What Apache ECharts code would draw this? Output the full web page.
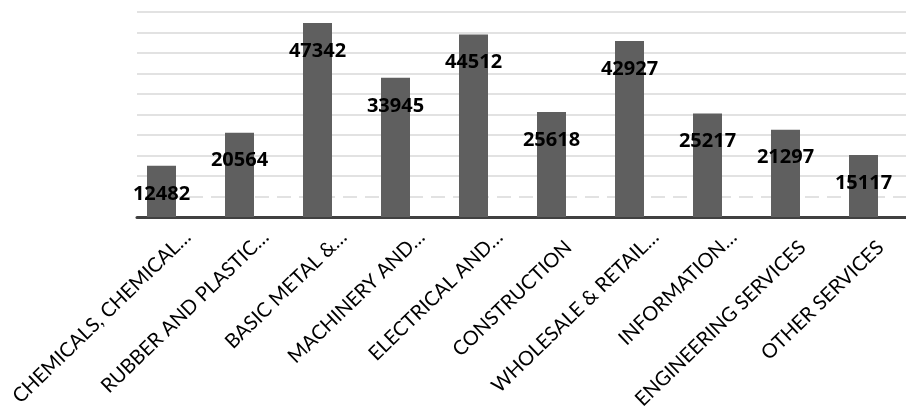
<!DOCTYPE html>
<html><head><meta charset="utf-8">
<script src="https://cdn.jsdelivr.net/npm/echarts@6/dist/echarts.min.js"></script>
<style>html,body{margin:0;padding:0;background:#fff;overflow:hidden;width:906px;height:412px}#c{width:960px;height:412px}</style>
</head><body><div id="c"></div>
<script>
const categories = ["CHEMICALS, CHEMICAL…","RUBBER AND PLASTIC…","BASIC METAL &…","MACHINERY AND…","ELECTRICAL AND…","CONSTRUCTION","WHOLESALE & RETAIL…","INFORMATION…","ENGINEERING SERVICES","OTHER SERVICES"];
const values = [12482,20564,47342,33945,44512,25618,42927,25217,21297,15117];
const yMin = 0, yMax = 50000, yInterval = 5000;

const isCut = v => v.endsWith('…');
const labelStyle = {interval:0, rotate:44, color:'#000', fontFamily:'Lato', fontSize:20};
const hiddenY = i => ({type:'value', gridIndex:i, min:yMin, max:yMax, interval:yInterval, show:false});
const labelX = (i, margin, keep) => ({
  type:'category', gridIndex:i, data:categories,
  axisLine:{show:false}, axisTick:{show:false}, splitLine:{show:false},
  axisLabel:Object.assign({}, labelStyle, {margin:margin, formatter: v => keep(v) ? v : ''})
});

const chart = echarts.init(document.getElementById('c'), null, {renderer:'canvas'});
chart.setOption({
  animation:false,
  grid:[
    {left:137, top:12, width:780, height:205, containLabel:false},
    {left:139.5, top:12, width:780, height:205, containLabel:false},
    {left:148.5, top:12, width:780, height:205, containLabel:false}
  ],
  xAxis:[
    {type:'category', gridIndex:0, data:categories,
     axisLine:{lineStyle:{color:'#404040', width:3}},
     axisTick:{show:false}, axisLabel:{show:false}},
    labelX(1, 28, v => !isCut(v)),
    labelX(2, 17, v => isCut(v))
  ],
  yAxis:[
    {type:'value', gridIndex:0, min:yMin, max:yMax, interval:yInterval,
     axisLabel:{show:false}, axisLine:{show:false}, axisTick:{show:false},
     splitLine:{lineStyle:{color:'#d9d9d9', width:1.5}}},
    hiddenY(1), hiddenY(2)
  ],
  series:[
    {type:'bar', xAxisIndex:0, yAxisIndex:0, data:values, barWidth:29, barGap:'0%', zlevel:1,
     itemStyle:{color:'#5f5f5f'},
     label:{show:true, position:['50%',28], align:'center', verticalAlign:'middle',
            color:'#000', fontFamily:'Open Sans', fontWeight:'bold', fontSize:20}},
    {type:'bar', xAxisIndex:0, yAxisIndex:0, data:[], barWidth:29,
     markLine:{silent:true, symbol:'none', label:{show:false},
       lineStyle:{color:'#ffffff', type:[8,14], width:2},
       data:[{yAxis:5000}]}}
  ]
});
</script></body></html>
